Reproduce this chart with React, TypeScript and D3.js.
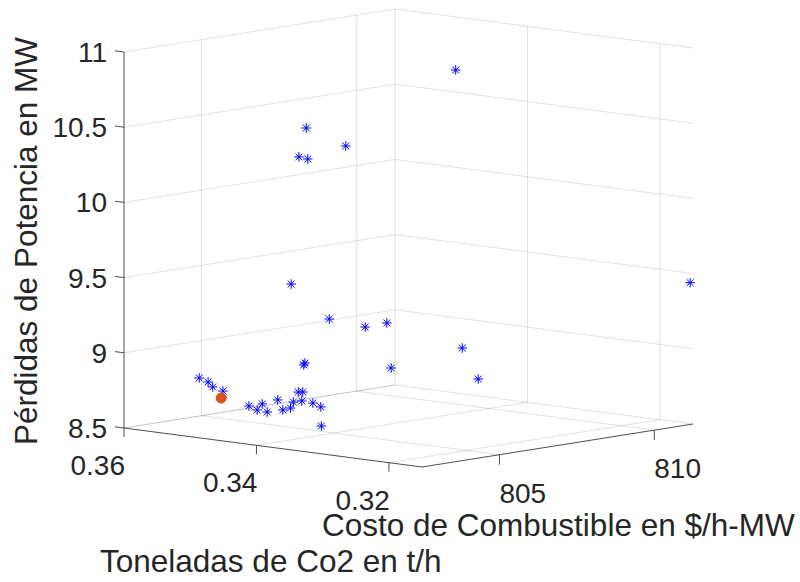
import React from 'react';
import * as d3 from 'd3';

// Pareto points: Co2 (t/h), fuel cost ($/h-MW), power losses (MW)
const co2Values = [
  0.3310, 0.3445, 0.3457, 0.3439, 0.3397, 0.3428, 0.3371, 0.3378, 0.3342, 0.3388, 0.3397,
  0.3378, 0.3345, 0.3327, 0.3152, 0.3579, 0.3574, 0.3568, 0.3554, 0.3533, 0.3521, 0.3517,
  0.3510, 0.3525, 0.3500, 0.3488, 0.3493, 0.3502, 0.3483, 0.3484, 0.3464, 0.3453, 0.3447
];
const costValues = [
  807.01, 805.07, 805.09, 804.99, 805.32, 804.22, 804.23, 805.54, 805.47, 803.77, 804.00,
  806.38, 807.97, 808.10, 811.20, 804.48, 804.66, 804.68, 804.71, 805.10, 805.11, 805.19,
  805.20, 805.86, 805.49, 805.48, 805.68, 806.03, 805.77, 805.76, 805.69, 805.71, 805.60
];
const lossValues = [
  10.90, 10.50, 10.30, 10.30, 10.40, 9.50, 9.30, 9.20, 9.25, 9.00, 9.00,
  8.90, 9.00, 8.80, 9.44, 8.78, 8.75, 8.72, 8.70, 8.60, 8.58, 8.62,
  8.57, 8.62, 8.58, 8.60, 8.63, 8.68, 8.70, 8.64, 8.64, 8.62, 8.50
];

// best compromise solution
const bestCo2 = 0.3550;
const bestCost = 804.57;
const bestLoss = 8.66;

const co2Ticks = [0.36, 0.34, 0.32];
const co2TickLabels = ['0.36', '0.34', '0.32'];
const costTicks = [805, 810];
const costTickLabels = ['805', '810'];
const lossTicks = [8.5, 9, 9.5, 10, 10.5, 11];
const lossTickLabels = ['8.5', '9', '9.5', '10', '10.5', '11'];

const co2Domain = [0.36, 0.315];
const costDomain = [802.5, 811.25];
const lossDomain = [8.5, 11];

export default function App() {
  const width = 800, height = 582;
  const font = '"Liberation Sans", Arial, Helvetica, sans-serif';
  const textColor = '#262626';

  // orthographic view of the box
  const origin = [124, 428];
  const eu = [298, 39], ev = [271, -43], ew = [0, -376];

  const su = d3.scaleLinear().domain(co2Domain).range([0, 1]);
  const sv = d3.scaleLinear().domain(costDomain).range([0, 1]);
  const sw = d3.scaleLinear().domain(lossDomain).range([0, 1]);

  const proj = (c, k, z) => {
    const u = su(c), v = sv(k), w = sw(z);
    return [
      origin[0] + eu[0] * u + ev[0] * v + ew[0] * w,
      origin[1] + eu[1] * u + ev[1] * v + ew[1] * w
    ];
  };

  const [c0, c1] = co2Domain;
  const [k0, k1] = costDomain;
  const [z0, z1] = lossDomain;

  const seg = (a, b) => 'M' + a[0] + ',' + a[1] + 'L' + b[0] + ',' + b[1];

  const grid = [];
  // back wall at Co2 = 0.36
  lossTicks.forEach(z => grid.push(seg(proj(c0, k0, z), proj(c0, k1, z))));
  costTicks.forEach(k => grid.push(seg(proj(c0, k, z0), proj(c0, k, z1))));
  // back wall at max cost
  lossTicks.forEach(z => grid.push(seg(proj(c0, k1, z), proj(c1, k1, z))));
  co2Ticks.forEach(c => grid.push(seg(proj(c, k1, z0), proj(c, k1, z1))));
  // floor
  costTicks.forEach(k => grid.push(seg(proj(c0, k, z0), proj(c1, k, z0))));
  co2Ticks.forEach(c => grid.push(seg(proj(c, k0, z0), proj(c, k1, z0))));

  const s = 4.8, dd = s * 0.72;
  const star = 'M' + (-s) + ',0H' + s + 'M0,' + (-s) + 'V' + s +
    'M' + (-dd) + ',' + (-dd) + 'L' + dd + ',' + dd +
    'M' + (-dd) + ',' + dd + 'L' + dd + ',' + (-dd);

  const best = proj(bestCo2, bestCost, bestLoss);

  return (
    <svg width={width} height={height} style={{ position: 'absolute', left: 0, top: 0, background: '#fff' }}
      fontFamily={font}>
      <g>
        {grid.map((d, i) => (
          <path key={i} d={d} fill="none" stroke="#262626" strokeOpacity={0.14} strokeWidth={1} />
        ))}
      </g>

      {/* axis lines */}
      <g stroke="#3a3a3a" strokeWidth={0.9} fill="none">
        <path d={seg(proj(c0, k0, z0), proj(c0, k0, z1))} />
        <path d={seg(proj(c0, k0, z0), proj(c1, k0, z0))} />
        <path d={seg(proj(c1, k0, z0), proj(c1, k1, z0))} />
      </g>

      {/* loss axis */}
      {lossTicks.map((z, i) => {
        const p = proj(c0, k0, z);
        return (
          <g key={'z' + i}>
            <path d={seg(p, [p[0] - 9, p[1] - 1.2])} stroke="#3a3a3a" strokeWidth={0.9} />
            <text x={p[0] - 17} y={p[1]} dy="0.36em" textAnchor="end" fontSize={28} fill={textColor}>
              {lossTickLabels[i]}
            </text>
          </g>
        );
      })}

      {/* co2 axis */}
      {co2Ticks.map((c, i) => {
        const p = proj(c, k0, z0);
        return (
          <g key={'c' + i}>
            <path d={seg(p, [p[0], p[1] + 9])} stroke="#3a3a3a" strokeWidth={0.9} />
            <text x={p[0] + 1} y={p[1] + 47} textAnchor="end" fontSize={28} fill={textColor}>
              {co2TickLabels[i]}
            </text>
          </g>
        );
      })}

      {/* cost axis */}
      {costTicks.map((k, i) => {
        const p = proj(c1, k, z0);
        return (
          <g key={'k' + i}>
            <path d={seg(p, [p[0], p[1] + 10])} stroke="#3a3a3a" strokeWidth={0.9} />
            <text x={p[0]} y={p[1] + 48} textAnchor="start" fontSize={28} fill={textColor}>
              {costTickLabels[i]}
            </text>
          </g>
        );
      })}

      {/* data */}
      <g stroke="#0000ff" strokeWidth={1} fill="none">
        {co2Values.map((c, i) => {
          const p = proj(c, costValues[i], lossValues[i]);
          return <path key={i} d={star} transform={'translate(' + p[0] + ',' + p[1] + ')'} />;
        })}
      </g>
      <circle cx={best[0]} cy={best[1]} r={5} fill="#d95319" stroke="#d95319" />

      {/* axis labels */}
      <text x={322} y={536} fontSize={31.5} fill={textColor}>Costo de Combustible en $/h-MW</text>
      <text x={100} y={572} fontSize={31.5} fill={textColor}>Toneladas de Co2 en t/h</text>
      <text transform="translate(37,241) rotate(-90)" textAnchor="middle" fontSize={31.5} fill={textColor}>
        Pérdidas de Potencia en MW
      </text>
    </svg>
  );
}
